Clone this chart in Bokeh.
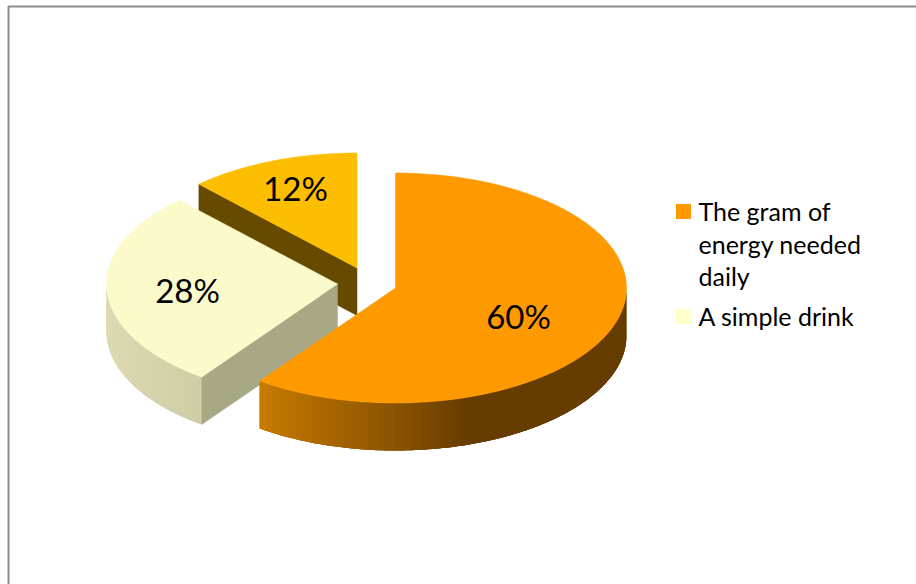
import math
from bokeh.plotting import figure
from bokeh.models import Range1d
from bokeh.core.properties import value
from bokeh.embed import file_html
from bokeh.resources import INLINE

# --- data
categories = ["The gram of energy needed daily", "A simple drink", "Third share"]
shares = [60, 28, 12]
share_labels = ["60%", "28%", "12%"]
legend_lines = [["The gram of", "energy needed", "daily"], ["A simple drink"]]

# --- styling / layout
top_colors = ["#ff9900", "#fbfacb", "#fdbe00"]
wall_colors = [None, "#a8a885", "#664a00"]
legend_colors = ["#ff9900", "#ffffcc"]
centers = [(395, 287.5), (337, 283.5), (356.5, 267.5)]
label_pos = [(518, 315), (187, 289), (295, 187)]
RX, RY, DEPTH = 231, 115, 47.5
W, H = 916, 584
FONT = value("Lato")

p = figure(width=W, height=H, output_backend="svg", toolbar_location=None,
           x_range=Range1d(0, W), y_range=Range1d(H, 0),
           x_axis_location=None, y_axis_location=None, min_border=0,
           outline_line_color=None, background_fill_color="white",
           border_fill_color="white",
           styles={"position": "absolute", "left": "0", "top": "0"})
p.grid.visible = False

p.line([W, 8, 8], [6, 6, H], line_color="#8c8c8c", line_width=2)


def pt(c, frac):
    a = 2 * math.pi * frac
    return c[0] + RX * math.sin(a), c[1] - RY * math.cos(a)


def top_shape(c, f0, f1, color):
    n = 120
    pts = [pt(c, f0 + (f1 - f0) * i / n) for i in range(n + 1)]
    xs = [c[0]] + [q[0] for q in pts]
    ys = [c[1]] + [q[1] for q in pts]
    p.patch(xs, ys, fill_color=color, line_color=color, line_width=0.5)


def wall(c, f, color):
    x, y = pt(c, f)
    p.patch([c[0], x, x, c[0]], [c[1], y, y + DEPTH, c[1] + DEPTH],
            fill_color=color, line_color=color, line_width=0.5)


def lerp(a, b, t):
    t = max(0.0, min(1.0, t))
    return "#%02x%02x%02x" % tuple(round(a[i] + (b[i] - a[i]) * t) for i in range(3))


def rim(c, f0, f1, color_of_x, n=60):
    # each strip runs on under the next one, so no seams show between them
    step = (f1 - f0) / n
    for i in range(n):
        a0 = f0 + step * i
        a1 = a0 + step * (3 if i < n - 3 else (n - i))
        sub = [pt(c, a0 + (a1 - a0) * k / 6) for k in range(7)]
        xs = [q[0] for q in sub] + [q[0] for q in reversed(sub)]
        ys = [q[1] for q in sub] + [q[1] + DEPTH for q in reversed(sub)]
        col = color_of_x(pt(c, a0 + step / 2)[0])
        p.patch(xs, ys, fill_color=col, line_color=None)


bounds = [0]
for s in shares:
    bounds.append(bounds[-1] + s / sum(shares))

# third slice (back)
wall(centers[2], bounds[2], wall_colors[2])
top_shape(centers[2], bounds[2], bounds[3], top_colors[2])

# second slice
rim(centers[1], bounds[1], 0.75,
    lambda x: lerp((220, 218, 178), (207, 205, 165), (x - 107) / 95))
wall(centers[1], bounds[1], wall_colors[1])
top_shape(centers[1], bounds[1], bounds[2], top_colors[1])

# first slice
rim(centers[0], 0.25, bounds[1],
    lambda x: lerp((102, 60, 0), (200, 122, 0), (470 - x) / 210))
top_shape(centers[0], bounds[0], bounds[1], top_colors[0])

# slice labels
p.text([q[0] for q in label_pos], [q[1] for q in label_pos], text=share_labels,
       text_font=FONT, text_font_size="33px", text_color="black",
       text_align="center", text_baseline="middle")

# legend
p.scatter([683, 683], [211, 316], marker="square", size=15, color=legend_colors, line_width=0)
y_lines = [[210, 243, 275], [315]]
for lines, ys in zip(legend_lines, y_lines):
    p.text([698] * len(lines), ys, text=lines, text_font=FONT, text_font_size="25px",
           text_color="black", text_align="left", text_baseline="middle")

open("out.html", "w").write(file_html(p, INLINE))
